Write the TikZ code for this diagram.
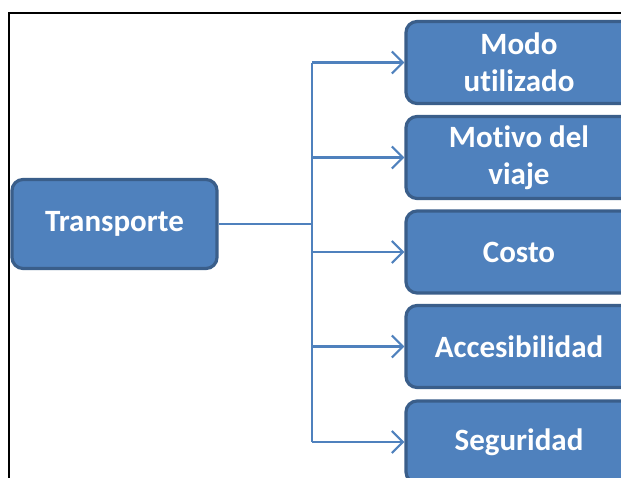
\documentclass[tikz,border=0pt]{standalone}
\usepackage{fontspec}
\setmainfont{Carlito}[Ligatures={NoCommon,NoRequired,NoContextual}]
\usetikzlibrary{arrows.meta}
\definecolor{boxfill}{HTML}{4F81BD}
\definecolor{boxline}{HTML}{3A5E8A}
\definecolor{linkblue}{HTML}{4F81BD}
\tikzset{
  topic/.style={draw=boxline, fill=boxfill, line width=3.2pt, rounded corners=11pt,
    text=white, font=\fontsize{31}{37}\selectfont\bfseries, align=center,
    inner sep=0pt},
  link/.style={draw=linkblue, line width=2.2pt},
  linkarrow/.style={link, -{Straight Barb[length=11pt,width=22pt,line width=2.2pt]}}
}
\begin{document}
\begin{tikzpicture}[x=1pt,y=-1pt]
\useasboundingbox (0,0) rectangle (621,477);
\clip (0,0) rectangle (621,477);
% outer frame
\draw[line width=1.6pt] (9,13) rectangle (640,500);
% root box
\node[topic, minimum width=205pt, minimum height=89pt] (root) at (114.5,224) {Transporte};
% branch boxes
\node[topic, minimum width=226pt, minimum height=82pt] (b1) at (519,62.5) {Modo\\utilizado};
\node[topic, minimum width=226pt, minimum height=82pt] (b2) at (519,157.5) {Motivo del\\viaje};
\node[topic, minimum width=226pt, minimum height=82pt] (b3) at (519,252) {Costo};
\node[topic, minimum width=226pt, minimum height=82pt] (b4) at (519,346.5) {Accesibilidad};
\node[topic, minimum width=226pt, minimum height=82pt] (b5) at (519,442) {Seguridad};
% trunk
\coordinate (fork) at (312,224);
\coordinate (top) at (312,62.5);
\coordinate (bot) at (312,442);
\draw[link] (root.east) -- (fork);
\draw[link] (top) -- (bot);
\draw[linkarrow] (top) -- (b1.west);
\draw[linkarrow] (312,157.5) -- (b2.west);
\draw[linkarrow] (312,252) -- (b3.west);
\draw[linkarrow] (312,346.5) -- (b4.west);
\draw[linkarrow] (bot) -- (b5.west);
\end{tikzpicture}
\end{document}
